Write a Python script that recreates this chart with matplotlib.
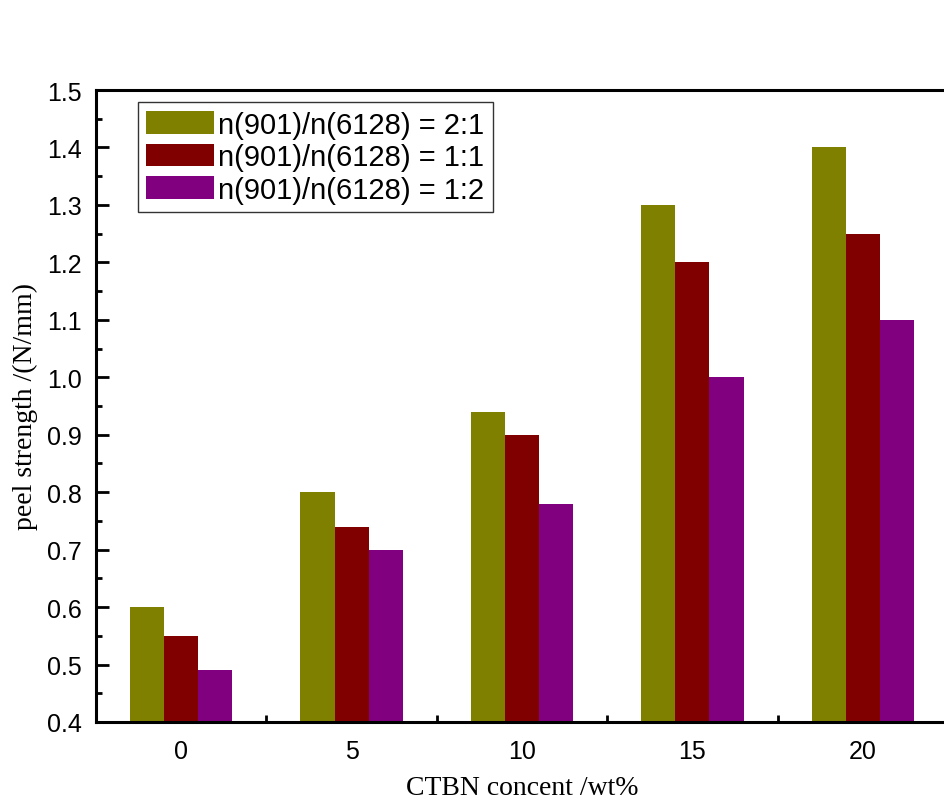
import numpy as np
import matplotlib.pyplot as plt

categories = ['0', '5', '10', '15', '20']
ratio_2_1 = [0.60, 0.80, 0.94, 1.30, 1.40]
ratio_1_1 = [0.55, 0.74, 0.90, 1.20, 1.25]
ratio_1_2 = [0.49, 0.70, 0.78, 1.00, 1.10]
labels = ['n(901)/n(6128) = 2:1', 'n(901)/n(6128) = 1:1', 'n(901)/n(6128) = 1:2']
colors = ['#808000', '#800000', '#800080']

fig = plt.figure(figsize=(9.44, 8.03), dpi=100)
ax = fig.add_axes([96 / 944, 80 / 803, 852 / 944, 632 / 803])

x = np.arange(len(categories))
w = 0.2
for i, (vals, lab, c) in enumerate(zip([ratio_2_1, ratio_1_1, ratio_1_2], labels, colors)):
    ax.bar(x + (i - 1) * w, np.array(vals) - 0.4, w, bottom=0.4, color=c, label=lab,
           edgecolor='none', zorder=2)

ax.set_xlim(-0.5, 4.5)
ax.set_ylim(0.4, 1.5)
ax.set_yticks(np.arange(0.4, 1.51, 0.1))
ax.set_yticks(np.arange(0.45, 1.5, 0.1), minor=True)
ax.set_yticklabels(['%.1f' % v for v in np.arange(0.4, 1.51, 0.1)])
ax.set_xticks(x)
ax.set_xticklabels(categories)
ax.set_xticks(x[:-1] + 0.5, minor=True)

for s in ax.spines.values():
    s.set_linewidth(2.2)

ax.tick_params(axis='y', which='major', direction='in', length=9, width=2,
               labelsize=18, pad=10, labelfontfamily='Liberation Sans')
ax.tick_params(axis='y', which='minor', direction='in', length=4.5, width=2)
ax.tick_params(axis='x', which='major', length=0, labelsize=18, pad=12,
               labelfontfamily='Liberation Sans')
ax.tick_params(axis='x', which='minor', direction='in', length=5, width=2)
ax.tick_params(right=False, top=False, which='both')

ax.set_xlabel('CTBN concent /wt%', family='Liberation Serif', fontsize=20, labelpad=9)
ax.set_ylabel('peel strength /(N/mm)', family='Liberation Serif', fontsize=20, labelpad=7)

leg = ax.legend(loc='upper left', bbox_to_anchor=(0.049, 0.981),
                prop={'family': 'Liberation Sans', 'size': 21},
                fancybox=False, edgecolor='#333333', framealpha=1,
                handlelength=2.3, handleheight=0.8, handletextpad=0.15,
                labelspacing=0.15, borderpad=0.3, borderaxespad=0)
leg.get_frame().set_linewidth(1.0)

fig.savefig('out.png', dpi=100)
